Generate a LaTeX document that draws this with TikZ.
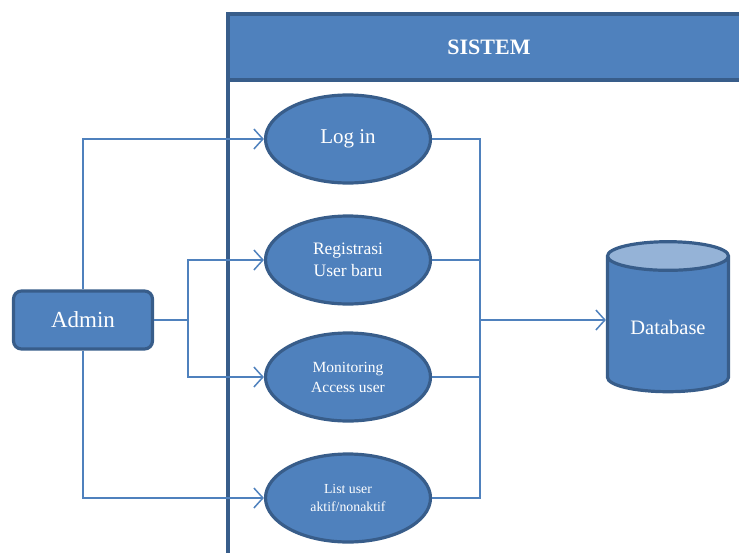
\documentclass[tikz,border=0pt]{standalone}
\usepackage{fontspec}
\setmainfont{Liberation Serif}
\usetikzlibrary{shapes.geometric,arrows.meta}
\definecolor{boxblue}{HTML}{4F81BD}
\definecolor{edgeblue}{HTML}{385D8A}
\definecolor{topblue}{HTML}{95B3D7}

\begin{document}
\begin{tikzpicture}[x=1pt,y={(0pt,-1pt)},
  usecase/.style={ellipse,draw=edgeblue,fill=boxblue,line width=3.2pt,
    minimum width=165pt,minimum height=88pt,inner sep=0pt,
    text=white,align=center},
  actor/.style={rectangle,rounded corners=8pt,draw=edgeblue,fill=boxblue,
    line width=3.2pt,minimum width=139pt,minimum height=58pt,text=white},
  conn/.style={draw=boxblue,line width=1.5pt},
  arr/.style={conn,-{Straight Barb[length=9pt,width=20pt,line width=1.5pt]}}]
\useasboundingbox (0,0) rectangle (739,552);

% system frame
\draw[edgeblue,line width=3.2pt,fill=boxblue] (228,14) rectangle (760,80);
\draw[edgeblue,line width=3.2pt] (228,14) -- (228,560);
\node[text=white,font=\bfseries\fontsize{22}{26}\selectfont] (sistem) at (489,47) {SISTEM};

% actor
\node[actor,font=\fontsize{23}{27}\selectfont] (admin) at (83,320) {Admin};

% use cases
\node[usecase,font=\fontsize{21}{25}\selectfont] (login) at (348,139) {Log in};
\node[usecase,font=\fontsize{17.5}{22}\selectfont] (reg) at (348,260) {Registrasi\\User baru};
\node[usecase,font=\fontsize{15.5}{20}\selectfont] (mon) at (348,377) {Monitoring\\Access user};
\node[usecase,font=\fontsize{13.8}{18}\selectfont] (list) at (348,498) {List user\\aktif/nonaktif};

% database
\node[cylinder,shape border rotate=90,aspect=0.35,draw=edgeblue,line width=3.2pt,
  cylinder uses custom fill,cylinder body fill=boxblue,cylinder end fill=topblue,
  minimum width=121pt,minimum height=150pt,text=white,
  font=\fontsize{20.5}{24}\selectfont] (db) at (668,327) {Database};

% connectors
\coordinate (jl) at (188,320);
\coordinate (jr) at (480,320);
\draw[arr] (admin.north) |- (login.west);
\draw[arr] (admin.south) |- (list.west);
\draw[conn] (admin.east) -- (jl);
\draw[arr] (jl) |- (reg.west);
\draw[arr] (jl) |- (mon.west);
\draw[conn] (login.east) -| (jr);
\draw[conn] (reg.east) -| (jr);
\draw[conn] (mon.east) -| (jr);
\draw[conn] (list.east) -| (jr);
\draw[arr] (jr) -- (jr -| db.west);
\end{tikzpicture}
\end{document}
